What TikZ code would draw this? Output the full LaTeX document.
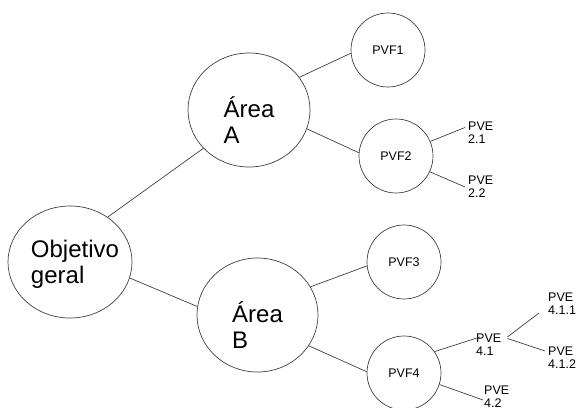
\documentclass[tikz,border=0pt]{standalone}
\usepackage{fontspec}
\setmainfont{Liberation Sans}
\usetikzlibrary{calc}
\usetikzlibrary{positioning}
\usetikzlibrary{shapes.geometric}
\tikzstyle{bignode} = [draw=black!75, ellipse, line width=0.7pt, minimum width=122pt, minimum height=114pt, inner sep=0pt]
\tikzstyle{pvfnode} = [draw=black!75, circle, line width=0.7pt, minimum size=74pt, inner sep=0pt, font=\fontsize{12.5}{13}\selectfont]
\tikzstyle{bigtext} = [font=\fontsize{24}{26}\selectfont, align=left, inner sep=0pt]
\tikzstyle{pvetext} = [font=\fontsize{12.5}{13}\selectfont, align=left, inner sep=1pt, anchor=west]
\tikzstyle{link} = [draw=black!75, line width=0.7pt]

\begin{document}
\begin{tikzpicture}[x=1pt, y=1pt]
    \useasboundingbox (0,0) rectangle (580,407);

    \node[bignode, minimum width=124pt, minimum height=112pt] (obj) at (70,145) {};
    \node[bigtext] (obj_txt) at ($(obj)+(5,-2)$) {Objetivo\\geral};

    \node[bignode] (area_a) at ($(obj)+(179,152)$) {};
    \node[bigtext] (area_a_txt) at ($(area_a)+(0,-10)$) {Área\\A};
    \node[bignode, minimum width=121pt] (area_b) at ($(obj)+(187.5,-53)$) {};
    \node[bigtext] (area_b_txt) at ($(area_b)+(0,-10)$) {Área\\B};

    \node[pvfnode] (pvf1) at ($(area_a)+(139,60)$) {PVF1};
    \node[pvfnode] (pvf2) at ($(area_a)+(147,-46)$) {PVF2};
    \node[pvfnode] (pvf3) at ($(area_b)+(146.5,53)$) {PVF3};
    \node[pvfnode] (pvf4) at ($(area_b)+(146.5,-58)$) {PVF4};

    \node[pvetext] (pve21) at ($(pvf2)+(71,23.5)$) {PVE\\2.1};
    \node[pvetext] (pve22) at ($(pvf2)+(71,-31)$) {PVE\\2.2};
    \node[pvetext] (pve41) at ($(pvf4)+(71,28.5)$) {PVE\\4.1};
    \node[pvetext] (pve411) at ($(pve41.west)+(72,40.5)$) {PVE\\4.1.1};
    \node[pvetext] (pve412) at ($(pve41.west)+(72,-13)$) {PVE\\4.1.2};
    \node[pvetext] (pve42) at ($(pvf4)+(79,-24)$) {PVE\\4.2};

    \draw[link] (obj.50) -- (area_a.220);
    \draw[link] (obj.-15) -- (area_b.172);
    \draw[link] (area_a.33) -- (pvf1.185);
    \draw[link] (area_a.-18) -- (pvf2.175);
    \draw[link] (area_b.28) -- (pvf3.186);
    \draw[link] (area_b.-31) -- (pvf4.178);

    \draw[link] (pvf2.23) -- ($(pve21.west)+(-2,5)$);
    \draw[link] (pvf2.-25) -- ($(pve22.west)+(-2,0)$);
    \draw[link] (pvf4.35) -- ($(pve41.west)+(5,7.5)$);
    \draw[link] (pvf4.-18) -- ($(pve42.west)+(0,-3)$);
    \draw[link] ($(pve41.east)+(5,7.5)$) -- ($(pve411.west)+(-8,-9)$);
    \draw[link] ($(pve41.east)+(5,6)$) -- ($(pve412.west)+(-2,6.5)$);
\end{tikzpicture}
\end{document}
